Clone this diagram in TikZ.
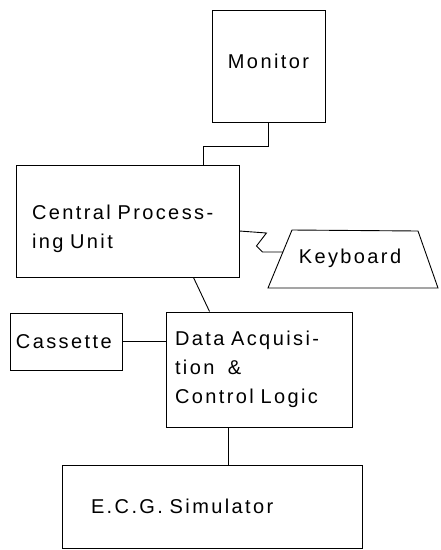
\documentclass[tikz,border=0pt]{standalone}
\usepackage{fontspec}
\setmainfont{Liberation Sans}[LetterSpace=12]

\begin{document}
\begin{tikzpicture}[x=1pt,y=-1pt,line width=0.9pt,
    box/.style={draw,align=left,inner ysep=0pt,font=\fontsize{20}{29}\selectfont}]
  \useasboundingbox (0,0) rectangle (440,550);
  % blocks
  \node [box,align=center,text depth=10pt,minimum width=113pt,minimum height=112pt] (mon) at (268.5,66) {Monitor};
  \node [box,text width=191pt,inner xsep=16pt,text depth=18pt,minimum height=112pt] (cpu) at (127.5,221) {Central Process-\\ing Unit};
  \node [box,draw=none] (kb) at (350,258) {Keyboard};
  \node [box,text width=100pt,inner xsep=6pt,minimum height=57pt] (cas) at (66,341.5) {Cassette};
  \node [box,text width=168pt,inner xsep=9pt,minimum height=115pt] (daq) at (259,369.5) {Data Acquisi-\\tion \ \&\\Control Logic};
  \node [box,text width=242pt,inner xsep=29pt,minimum height=83pt] (ecg) at (212,506.5) {E.C.G. Simulator};
  % keyboard outline
  \draw ([xshift=-58pt,yshift=28pt]kb.center) -- ([xshift=68pt,yshift=27pt]kb.center)
     -- ([xshift=88pt,yshift=-30pt]kb.center) -- ([xshift=-82pt,yshift=-30pt]kb.center) -- cycle;
  % links
  \draw (mon.south) -- ++(0,24) -| ([xshift=-36pt]cpu.north east);
  \draw ([yshift=-10pt]cpu.east) -- ++(27,2) -- ++(-10,13) -- ++(6,6) -- ([xshift=-67pt,yshift=6pt]kb.center);
  \draw ([xshift=-46pt]cpu.south east) -- ([xshift=44pt]daq.north west);
  \draw (cas.east) -- (cas.east -| daq.west);
  \draw ([xshift=-31pt]daq.south) -- ([xshift=-31pt]daq.south |- ecg.north);
\end{tikzpicture}
\end{document}
